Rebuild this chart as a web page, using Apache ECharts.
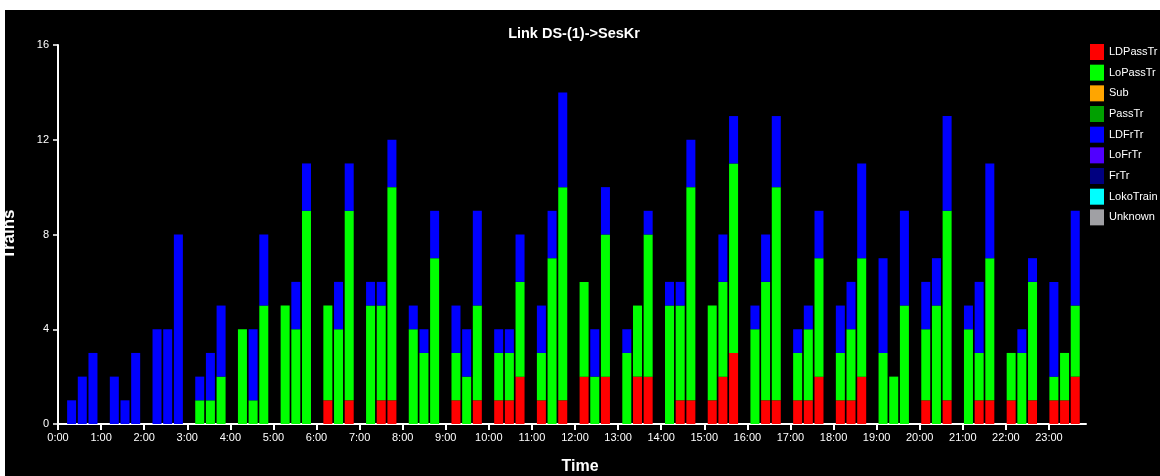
<!DOCTYPE html>
<html>
<head>
<meta charset="utf-8">
<script src="https://cdn.jsdelivr.net/npm/echarts@6/dist/echarts.min.js"></script>
<style>
html,body{margin:0;padding:0;background:#ffffff;width:1160px;height:476px;overflow:hidden;}
#chart{position:absolute;left:5px;top:10px;width:1155px;height:466px;}
</style>
</head>
<body>
<div id="chart"></div>
<script>
// 15-minute bins, 96 per day (index 0 = 0:00-0:15)
const hourLabels = ['0:00','1:00','2:00','3:00','4:00','5:00','6:00','7:00','8:00','9:00','10:00','11:00',
  '12:00','13:00','14:00','15:00','16:00','17:00','18:00','19:00','20:00','21:00','22:00','23:00'];
const seriesNames = ['LDPassTr','LoPassTr','Sub','PassTr','LDFrTr','LoFrTr','FrTr','LokoTrain','Unknown'];
const seriesColors = ['#ff0000','#00ff00','#ffa500','#00a000','#0000ff','#5000ff','#000080','#00ffff','#a0a0a4'];

const LDPassTr = [
  0,0,0,0, 0,0,0,0, 0,0,0,0, 0,0,0,0, 0,0,0,0, 0,0,0,0,
  1,0,1,0, 0,1,1,0, 0,0,0,0, 1,0,1,0, 1,1,2,0, 1,0,1,0,
  2,0,2,0, 0,2,2,0, 0,1,1,0, 1,2,3,0, 0,1,1,0, 1,1,2,0,
  1,1,2,0, 0,0,0,0, 1,0,1,0, 0,1,1,0, 1,0,1,0, 1,1,2,0
];
const LoPassTr = [
  0,0,0,0, 0,0,0,0, 0,0,0,0, 1,1,2,0, 4,1,5,0, 5,4,9,0,
  4,4,8,0, 5,4,9,0, 4,3,7,0, 2,2,4,0, 2,2,4,0, 2,7,9,0,
  4,2,6,0, 3,3,6,0, 5,4,9,0, 4,4,8,0, 4,5,9,0, 2,3,5,0,
  2,3,5,0, 3,2,5,0, 3,5,8,0, 4,2,6,0, 2,3,5,0, 1,2,3,0
];
const Sub = [];
const PassTr = [];
const LDFrTr = [
  1,2,3,0, 2,1,3,0, 4,4,8,0, 1,2,3,0, 0,3,3,0, 0,2,2,0,
  0,2,2,0, 1,1,2,0, 1,1,2,0, 2,2,4,0, 1,1,2,0, 2,2,4,0,
  0,2,2,0, 1,0,1,0, 1,1,2,0, 0,2,2,0, 1,2,3,0, 1,1,2,0,
  2,2,4,0, 4,0,4,0, 2,2,4,0, 1,3,4,0, 0,1,1,0, 4,0,4,0
];
const LoFrTr = [];
const FrTr = [];
const LokoTrain = [];
const Unknown = [];
const seriesValues = [LDPassTr, LoPassTr, Sub, PassTr, LDFrTr, LoFrTr, FrTr, LokoTrain, Unknown];

const HOUR = 3600 * 1000;
const DAY0 = Date.UTC(2024, 0, 1);   // reference day start
const binMs = 15 * 60 * 1000;        // 15-minute bins
const barShiftMs = 12.8 * 60 * 1000; // bar centre position inside the bin
const axisEndHours = 23.86;          // visible end of the time axis

function toPoints(arr){
  return arr.map((v,i)=>[DAY0 + i*binMs + barShiftMs, v]);
}

const chart = echarts.init(document.getElementById('chart'), null, {renderer:'canvas'});
const FONT = '"Liberation Sans", Arial, sans-serif';

chart.setOption({
  backgroundColor:'#000000',
  animation:false,
  useUTC:true,
  title:{
    text:'Link DS-(1)->SesKr',
    left:564, top:11, textAlign:'center',
    textStyle:{color:'#ffffff', fontSize:14.5, fontWeight:'bold', fontFamily:FONT}
  },
  legend:{
    orient:'vertical',
    left:1085, top:34, padding:0,
    itemWidth:14, itemHeight:16, itemGap:4.67,
    icon:'rect',
    data:seriesNames,
    textStyle:{color:'#ffffff', fontSize:11, fontFamily:FONT},
    inactiveColor:'#444'
  },
  grid:{left:53, top:35, right:74, bottom:52, containLabel:false, outerBoundsMode:'none'},
  xAxis:[{
    // time axis used to place the bars
    type:'time', min:DAY0, max:DAY0 + axisEndHours*HOUR, position:'bottom',
    axisLine:{show:false}, axisTick:{show:false}, axisLabel:{show:false}, splitLine:{show:false}
  },{
    // visible hour axis
    type:'value', min:0, max:axisEndHours, position:'bottom',
    name:'Time', nameLocation:'middle', nameGap:31,
    nameTextStyle:{color:'#ffffff', fontSize:16, fontWeight:'bold', fontFamily:FONT, padding:[4,0,0,16]},
    axisLine:{show:true, onZero:false, lineStyle:{color:'#ffffff', width:2}},
    axisTick:{show:true, length:6, lineStyle:{color:'#ffffff', width:2},
      customValues: hourLabels.map((s,i)=>i)},
    axisLabel:{color:'#ffffff', fontSize:11, fontFamily:FONT, margin:8,
      customValues: hourLabels.map((s,i)=>i),
      formatter:(v)=>hourLabels[Math.round(v)] || ''},
    splitLine:{show:false}
  }],
  yAxis:{
    type:'value', min:0, max:16, interval:4,
    name:'Trains', nameLocation:'middle', nameGap:40, nameRotate:90,
    nameTextStyle:{color:'#ffffff', fontSize:17, fontWeight:'bold', fontFamily:FONT},
    axisLine:{show:true, lineStyle:{color:'#ffffff', width:2}},
    axisTick:{show:true, length:5, lineStyle:{color:'#ffffff', width:1.5}},
    axisLabel:{color:'#ffffff', fontSize:11, fontFamily:FONT, margin:9},
    splitLine:{show:false}
  },
  series: seriesNames.map((n,k)=>({
    name:n, type:'bar', stack:'all', xAxisIndex:0,
    barWidth:9,
    itemStyle:{color:seriesColors[k]},
    emphasis:{disabled:true},
    data: toPoints(seriesValues[k])
  }))
});
</script>
</body>
</html>
